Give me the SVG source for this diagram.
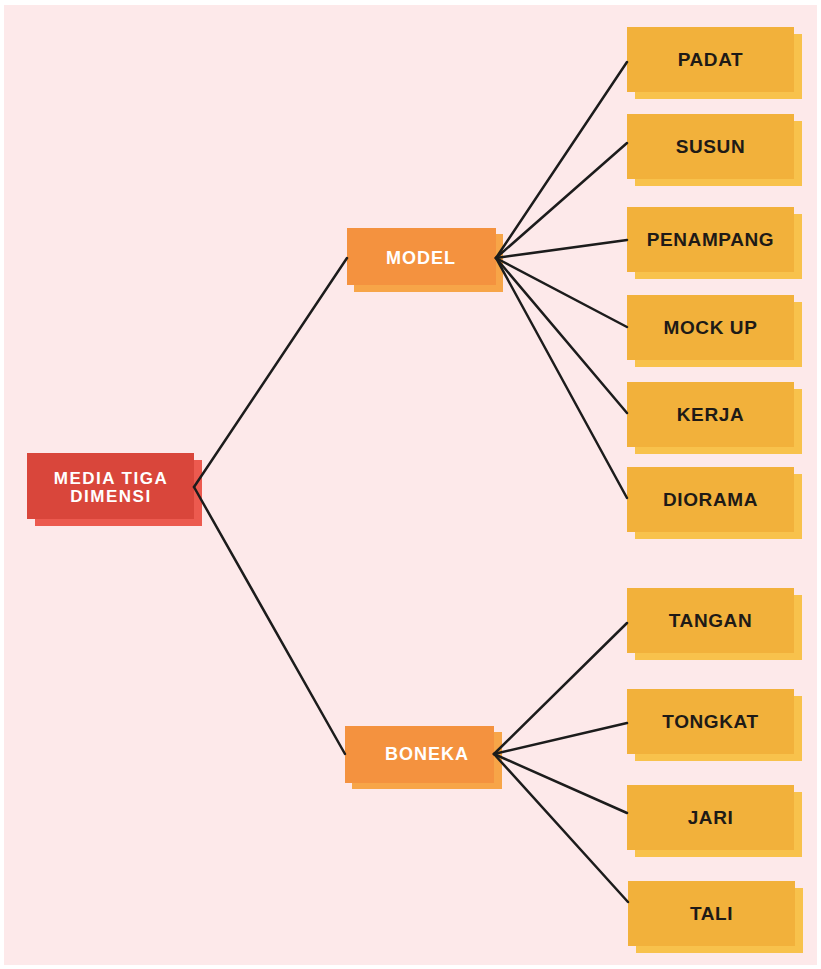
<svg xmlns="http://www.w3.org/2000/svg" width="821" height="969" viewBox="0 0 821 969">
<style>
.t{font-family:"Liberation Sans",Arial,sans-serif;font-weight:bold;text-anchor:middle;dominant-baseline:central}
.lt{fill:#1e1a17;font-size:19px;letter-spacing:0.6px}
.wt{fill:#ffffff}
.leaf{fill:#f2b13b}
.leafs{fill:#f8c24c}
.mid{fill:#f4923f}
.mids{fill:#f7a548}
.root{fill:#d9463b}
.roots{fill:#ec5a4f}
.c line{stroke:#1c1c1c;stroke-width:2.5;stroke-linecap:round}
</style>
<rect x="0" y="0" width="821" height="969" fill="#ffffff"/>
<rect x="4" y="5" width="813" height="960" fill="#fde9ea"/>
<g id="root">
<rect class="roots" x="35" y="460" width="167" height="66"/>
<rect class="root" x="27" y="453" width="167" height="66"/>
<text class="t wt" x="111" y="478" font-size="17" letter-spacing="1.5">MEDIA TIGA</text>
<text class="t wt" x="111" y="496" font-size="17" letter-spacing="1.5">DIMENSI</text>
</g>
<g id="model">
<rect class="mids" x="354" y="234" width="149" height="58"/>
<rect class="mid" x="347" y="228" width="149" height="57"/>
<text class="t wt" x="421" y="258" font-size="18" letter-spacing="1">MODEL</text>
</g>
<g id="boneka">
<rect class="mids" x="352" y="732" width="150" height="57"/>
<rect class="mid" x="345" y="726" width="149" height="57"/>
<text class="t wt" x="427" y="754" font-size="18" letter-spacing="1">BONEKA</text>
</g>
<g id="padat"><rect class="leafs" x="635" y="34" width="167" height="65"/><rect class="leaf" x="627" y="27" width="167" height="65"/><text class="t lt" x="710.5" y="59.5">PADAT</text></g>
<g id="susun"><rect class="leafs" x="635" y="121" width="167" height="65"/><rect class="leaf" x="627" y="114" width="167" height="65"/><text class="t lt" x="710.5" y="146.5">SUSUN</text></g>
<g id="penampang"><rect class="leafs" x="635" y="214" width="167" height="65"/><rect class="leaf" x="627" y="207" width="167" height="65"/><text class="t lt" x="710.5" y="239.5">PENAMPANG</text></g>
<g id="mockup"><rect class="leafs" x="635" y="302" width="167" height="65"/><rect class="leaf" x="627" y="295" width="167" height="65"/><text class="t lt" x="710.5" y="327.5">MOCK UP</text></g>
<g id="kerja"><rect class="leafs" x="635" y="389" width="167" height="65"/><rect class="leaf" x="627" y="382" width="167" height="65"/><text class="t lt" x="710.5" y="414.5">KERJA</text></g>
<g id="diorama"><rect class="leafs" x="635" y="474" width="167" height="65"/><rect class="leaf" x="627" y="467" width="167" height="65"/><text class="t lt" x="710.5" y="499.5">DIORAMA</text></g>
<g id="tangan"><rect class="leafs" x="635" y="595" width="167" height="65"/><rect class="leaf" x="627" y="588" width="167" height="65"/><text class="t lt" x="710.5" y="620.5">TANGAN</text></g>
<g id="tongkat"><rect class="leafs" x="635" y="696" width="167" height="65"/><rect class="leaf" x="627" y="689" width="167" height="65"/><text class="t lt" x="710.5" y="721.5">TONGKAT</text></g>
<g id="jari"><rect class="leafs" x="635" y="792" width="167" height="65"/><rect class="leaf" x="627" y="785" width="167" height="65"/><text class="t lt" x="710.5" y="817.5">JARI</text></g>
<g id="tali"><rect class="leafs" x="636" y="888" width="167" height="65"/><rect class="leaf" x="628" y="881" width="167" height="65"/><text class="t lt" x="711.5" y="913.5">TALI</text></g>
<g class="c" id="connectors">
<line x1="194" y1="487" x2="347" y2="258"/>
<line x1="194" y1="487" x2="345" y2="754"/>
<line x1="496" y1="258" x2="627" y2="62"/>
<line x1="496" y1="258" x2="627" y2="143"/>
<line x1="496" y1="258" x2="627" y2="240"/>
<line x1="496" y1="258" x2="627" y2="327"/>
<line x1="496" y1="258" x2="627" y2="413"/>
<line x1="496" y1="258" x2="627" y2="498"/>
<line x1="494" y1="754" x2="627" y2="623"/>
<line x1="494" y1="754" x2="627" y2="723"/>
<line x1="494" y1="754" x2="627" y2="813"/>
<line x1="494" y1="754" x2="628" y2="902"/>
</g>
</svg>
